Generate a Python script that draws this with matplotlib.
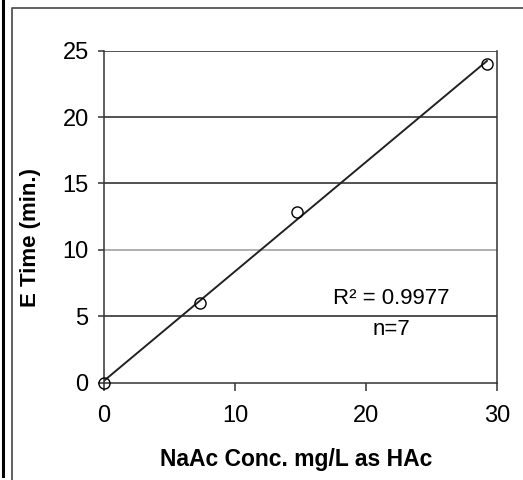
import numpy as np
import matplotlib.pyplot as plt
from matplotlib.lines import Line2D

plt.rcParams['font.family'] = ['Liberation Sans', 'DejaVu Sans']

# Sodium acetate dose vs. elapsed time
conc = np.array([0.0, 7.35, 14.75, 29.2])
etime = np.array([0.0, 6.0, 12.85, 24.0])
r2_text = "R\u00b2 = 0.9977"
n_text = "n=7"
xticks = [0, 10, 20, 30]
yticks = [0, 5, 10, 15, 20, 25]

fig = plt.figure(figsize=(5.23, 4.80), dpi=100)
ax = fig.add_axes([0.1983, 0.2027, 0.9512 - 0.1983, 0.8944 - 0.2027])

# horizontal gridlines (the 10 line is lighter in the original chart)
for yv in yticks[1:]:
    col = '#9a9a9a' if yv == 10 else '#222222'
    ax.axhline(yv, color=col, lw=1.1, zorder=1)

# linear trendline through the data
slope, icpt = np.polyfit(conc, etime, 1)
xl = np.array([conc.min(), conc.max()])
ax.plot(xl, slope * xl + icpt, color='#222222', lw=1.4, zorder=2)
ax.plot(conc, etime, 'o', mfc='none', mec='black', ms=8, mew=1.0,
        zorder=3, clip_on=False)

ax.set_xlim(0, 30)
ax.set_ylim(0, 25)
ax.set_xticks(xticks)
ax.set_yticks(yticks)
ax.tick_params(labelsize=17, width=1.1, color='#333333')
ax.tick_params(axis='y', length=4.3, pad=6.5)
ax.tick_params(axis='x', length=5.8, pad=10)
for s in ['left', 'bottom', 'right']:
    ax.spines[s].set_color('#333333')
    ax.spines[s].set_linewidth(1.1)
ax.spines['top'].set_visible(False)

ax.set_xlabel("NaAc Conc. mg/L as HAc", fontsize=16.5, fontweight='bold',
              va='center')
ax.set_ylabel("E Time (min.)", fontsize=16, fontweight='bold', va='center')
ax.xaxis.set_label_coords(0.488, -0.23)
ax.yaxis.set_label_coords(-0.187, 0.436)

ax.text(0.73, 0.255, r2_text, transform=ax.transAxes, ha='center',
        va='center', fontsize=16)
ax.text(0.73, 0.159, n_text, transform=ax.transAxes, ha='center',
        va='center', fontsize=16)

# outer frame lines
fig.add_artist(Line2D([3 / 523, 3 / 523], [1 - 476 / 480, 1.0], color='black',
                      lw=2.2, transform=fig.transFigure))
fig.add_artist(Line2D([11.5 / 523, 11.5 / 523, 1.0], [0.0, 1 - 8 / 480, 1 - 8 / 480],
                      color='#555555', lw=1.3, transform=fig.transFigure))

fig.savefig('out.png', dpi=100)
